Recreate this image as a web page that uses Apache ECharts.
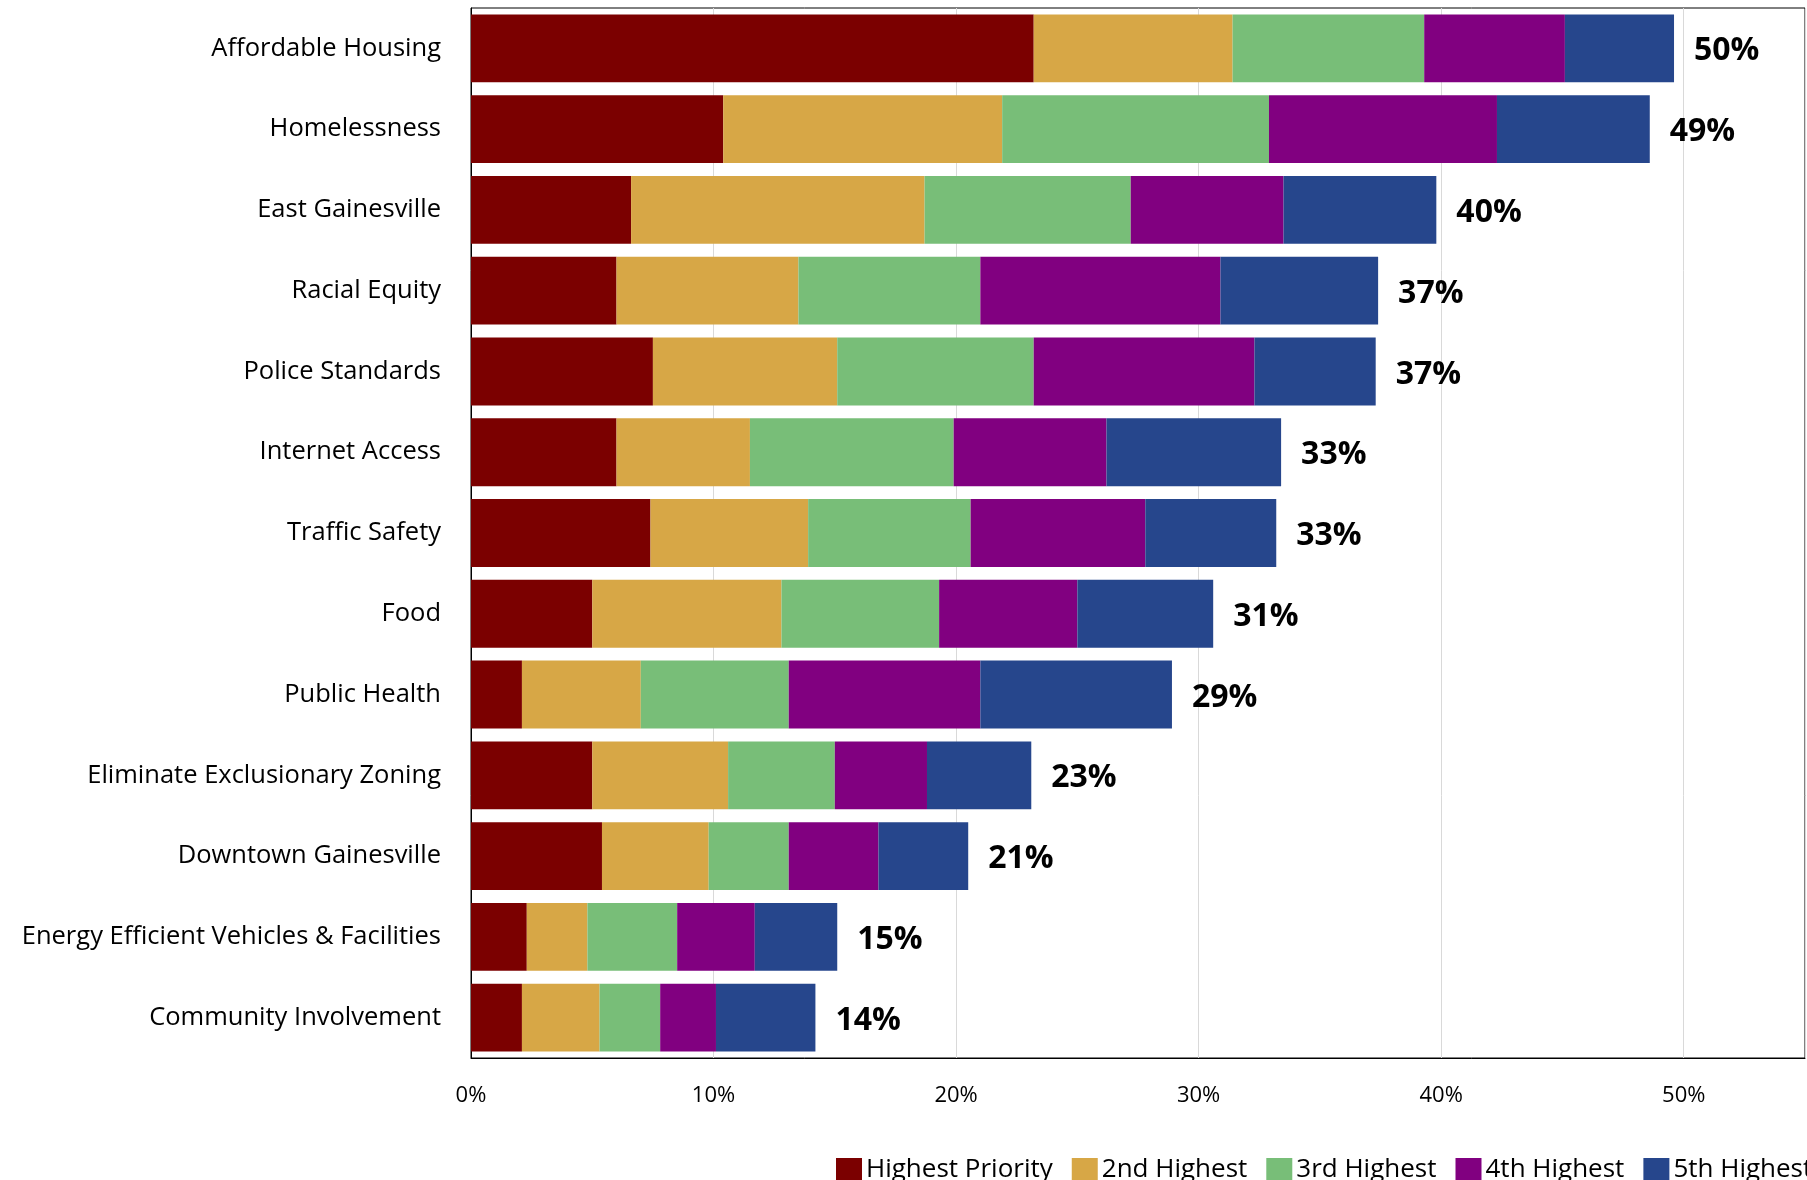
<!DOCTYPE html>
<html>
<head>
<meta charset="utf-8">
<title>Priority Ranking</title>
<script src="https://cdn.jsdelivr.net/npm/echarts@6/dist/echarts.min.js"></script>
<style>
  html, body { margin: 0; padding: 0; background: #fff; }
  #chart { width: 1807px; height: 1180px; }
</style>
</head>
<body>
<div id="chart"></div>
<script>
// Topics, top to bottom
const categories = [
  'Affordable Housing',
  'Homelessness',
  'East Gainesville',
  'Racial Equity',
  'Police Standards',
  'Internet Access',
  'Traffic Safety',
  'Food',
  'Public Health',
  'Eliminate Exclusionary Zoning',
  'Downtown Gainesville',
  'Energy Efficient Vehicles & Facilities',
  'Community Involvement'
];

const seriesNames = ['Highest Priority', '2nd Highest', '3rd Highest', '4th Highest', '5th Highest'];

// Share of respondents (%) per rank
const highestPriority = [23.2, 10.4, 6.6, 6.0, 7.5, 6.0, 7.4, 5.0, 2.1, 5.0, 5.4, 2.3, 2.1];
const secondHighest   = [8.2, 11.5, 12.1, 7.5, 7.6, 5.5, 6.5, 7.8, 4.9, 5.6, 4.4, 2.5, 3.2];
const thirdHighest    = [7.9, 11.0, 8.5, 7.5, 8.1, 8.4, 6.7, 6.5, 6.1, 4.4, 3.3, 3.7, 2.5];
const fourthHighest   = [5.8, 9.4, 6.3, 9.9, 9.1, 6.3, 7.2, 5.7, 7.9, 3.8, 3.7, 3.2, 2.3];
const fifthHighest    = [4.5, 6.3, 6.3, 6.5, 5.0, 7.2, 5.4, 5.6, 7.9, 4.3, 3.7, 3.4, 4.1];

const xTickValues = [0, 10, 20, 30, 40, 50];

const seriesData = [highestPriority, secondHighest, thirdHighest, fourthHighest, fifthHighest];
const colors = ['#7b0000', '#d7a746', '#78be78', '#810080', '#26468c'];

// Overall share for each topic, shown at the end of its bar
const totals = categories.map((_, i) => seriesData.reduce((s, arr) => s + arr[i], 0));

const FONT = '"Open Sans", "Noto Sans", sans-serif';

const chart = echarts.init(document.getElementById('chart'), null, { renderer: 'canvas' });

const series = seriesNames.map((name, k) => ({
  name: name,
  type: 'bar',
  stack: 'total',
  barCategoryGap: '16%',
  data: seriesData[k],
  itemStyle: { color: colors[k] },
  emphasis: { disabled: true },
  label: k === seriesNames.length - 1 ? {
    show: true,
    position: 'right',
    distance: 20,
    offset: [0, 3],
    fontFamily: FONT,
    fontWeight: 'bold',
    fontSize: 32,
    color: '#000',
    formatter: p => Math.round(totals[p.dataIndex]) + '%'
  } : { show: false }
}));

chart.setOption({
  animation: false,
  backgroundColor: '#fff',
  color: colors,
  grid: {
    left: 471,
    right: 2,
    top: 8,
    bottom: 122,
    show: true,
    borderColor: '#000',
    borderWidth: 1,
    containLabel: false
  },
  legend: {
    data: seriesNames,
    orient: 'horizontal',
    left: 836,
    top: 1157,
    width: 1400,
    padding: 0,
    icon: 'rect',
    itemWidth: 26,
    itemHeight: 24,
    itemGap: 19,
    textStyle: { fontFamily: FONT, fontSize: 26, color: '#000', padding: [0, 0, 0, -1] },
    selectedMode: false
  },
  xAxis: {
    type: 'value',
    min: 0,
    max: 55,
    interval: 10,
    axisLine: { show: true, lineStyle: { color: '#000', width: 1 } },
    axisTick: { show: false },
    splitLine: { show: true, lineStyle: { color: '#d9d9d9', width: 1 } },
    axisLabel: {
      showMaxLabel: false,
      margin: 27,
      fontFamily: FONT,
      fontSize: 22,
      color: '#000',
      formatter: v => (xTickValues.indexOf(v) >= 0 ? v + '%' : '')
    }
  },
  yAxis: {
    type: 'category',
    data: categories,
    inverse: true,
    axisLine: { show: true, lineStyle: { color: '#000', width: 1 } },
    axisTick: { show: false },
    splitLine: { show: false },
    axisLabel: {
      margin: 30,
      padding: [6, 0, 0, 0],
      fontFamily: FONT,
      fontSize: 25.5,
      color: '#000'
    }
  },
  series: series
});
</script>
</body>
</html>
